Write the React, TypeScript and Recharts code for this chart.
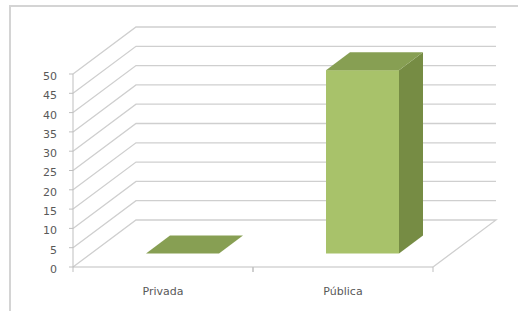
import React from "react";
import { BarChart, Bar, XAxis, YAxis, CartesianGrid } from "recharts";

const categories = ["Privada", "Pública"];
const values = [0, 47.5];
const yTicks = [0, 5, 10, 15, 20, 25, 30, 35, 40, 45, 50];

const data = categories.map((name, i) => ({ name, value: values[i] }));

// 3D geometry (pixels)
const WALL_DX = 63;
const WALL_DY = -47;
const BAR_DX0 = 19;
const BAR_DY0 = -13.5;
const BAR_DX = 24;
const BAR_DY = -18;

const GRID = "#cfcfcf";
const AXIS = "#bfbfbf";
const TEXT = "#595959";
const FONT = "DejaVu Sans";

const GridLine = (props: any) => {
  const { x1, y1, x2, index } = props;
  const bx1 = x1 + WALL_DX;
  const bx2 = x2 + WALL_DX;
  const by = y1 + WALL_DY;
  let d = `M${x1},${y1} L${bx1},${by} L${bx2},${by}`;
  if (Math.abs(y1 - props.y - props.height) < 1 || index === 0) {
    // floor: also draw right edge
    d += ` L${x2},${y1}`;
  }
  return <path key={props.key} d={d} fill="none" stroke={GRID} strokeWidth={1.3} />;
};

const Bar3D = (props: any) => {
  const { x, y, width, height } = props;
  const fx = x + BAR_DX0;
  const fy = y + BAR_DY0;
  const w = width;
  const h = Math.max(0, height);
  const bottom = fy + h;
  const top = `M${fx},${fy} L${fx + w},${fy} L${fx + w + BAR_DX},${fy + BAR_DY} L${fx + BAR_DX},${fy + BAR_DY} Z`;
  const side = `M${fx + w},${fy} L${fx + w + BAR_DX},${fy + BAR_DY} L${fx + w + BAR_DX},${bottom + BAR_DY} L${fx + w},${bottom} Z`;
  return (
    <g>
      {h > 0 && <path d={side} fill="#768c44" />}
      {h > 0 && <rect x={fx} y={fy} width={w} height={h} fill="#a8c26a" />}
      <path d={top} fill="#879f53" />
    </g>
  );
};

const XTick = (props: any) => {
  const { x, y, payload } = props;
  const off = payload && payload.offset ? payload.offset : 90;
  return (
    <g>
      <line x1={x - off} y1={y} x2={x - off} y2={y + 5} stroke={AXIS} />
      <line x1={x + off} y1={y} x2={x + off} y2={y + 5} stroke={AXIS} />
      <text x={x} y={y + 28} textAnchor="middle" fill={TEXT} fontSize={11} fontFamily={FONT}>
        {payload.value}
      </text>
    </g>
  );
};

export default function App() {
  return (
    <div style={{ position: "absolute", left: 0, top: 0, width: 518, height: 311, background: "#fff" }}>
      <div
        style={{
          position: "absolute",
          left: 9,
          top: 5,
          width: 509,
          height: 306,
          borderLeft: "2px solid #d4d4d4",
          borderTop: "2px solid #d4d4d4",
        }}
      />
      <div style={{ position: "absolute", left: 0, top: 0 }}>
        <BarChart
          width={518}
          height={311}
          data={data}
          margin={{ top: 74, right: 85, bottom: 0, left: 0 }}
        >
          <CartesianGrid vertical={false} horizontal={GridLine as any} />
          <XAxis
            dataKey="name"
            height={44}
            axisLine={{ stroke: AXIS }}
            tickLine={false}
            tickSize={0}
            tickMargin={0}
            tick={<XTick />}
            interval={0}
          />
          <YAxis
            width={73}
            domain={[0, 50]}
            ticks={yTicks}
            interval={0}
            axisLine={{ stroke: AXIS }}
            tickLine={{ stroke: AXIS }}
            tickSize={4}
            tickMargin={12}
            tick={{ fill: TEXT, fontSize: 11, fontFamily: FONT, dy: 2 }}
          />
          <Bar dataKey="value" barSize={73} shape={Bar3D as any} isAnimationActive={false} />
        </BarChart>
      </div>
    </div>
  );
}
